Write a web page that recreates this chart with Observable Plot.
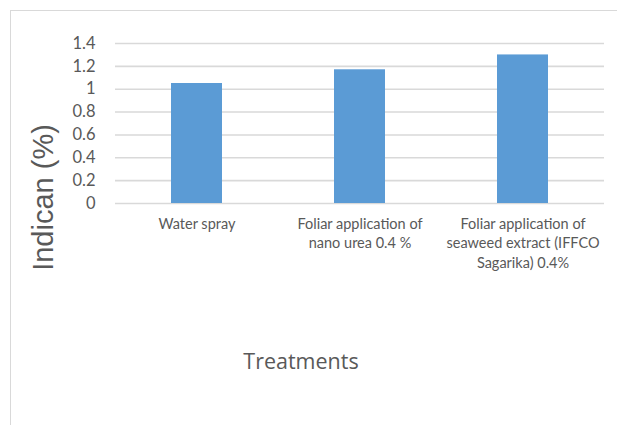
<!DOCTYPE html>
<html>
<head>
<meta charset="utf-8">
<script src="https://cdn.jsdelivr.net/npm/d3@7"></script>
<script src="https://cdn.jsdelivr.net/npm/@observablehq/plot@0.6"></script>
<style>
  html, body { margin: 0; padding: 0; background: #fff; overflow: hidden; }
  #wrap { position: relative; width: 617px; height: 425px; }
  #border { position: absolute; left: 10px; top: 10px; width: 700px; height: 500px;
            border: 1.5px solid #d9d9d9; pointer-events: none; box-sizing: border-box; }
</style>
</head>
<body>
<div id="wrap"><div id="border"></div></div>
<script>
const categories = [
  "Water spray",
  "Foliar application of\nnano urea 0.4 %",
  "Foliar application of\nseaweed extract (IFFCO\nSagarika) 0.4%"
];
const values = [1.05, 1.17, 1.30];
const yTicks = [0, 0.2, 0.4, 0.6, 0.8, 1, 1.2, 1.4];
const yLabel = "Indican (%)";
const xLabel = "Treatments";

const data = categories.map((c, i) => ({category: c, value: values[i]}));
const font = "Lato, 'Open Sans', sans-serif";

const chart = Plot.plot({
  width: 617,
  height: 425,
  marginLeft: 115,
  marginRight: 13,
  marginTop: 43,
  marginBottom: 222,
  style: {fontFamily: font, background: "transparent", color: "#595959"},
  x: {domain: categories, paddingInner: 0.69, paddingOuter: 0.345, label: null},
  y: {domain: [0, 1.4], label: null},
  marks: [
    Plot.gridY(yTicks, {stroke: "#d9d9d9", strokeOpacity: 1, strokeWidth: 1.6}),
    Plot.barY(data, {x: "category", y: "value", fill: "#5b9bd5"}),
    Plot.axisY(yTicks, {
      tickSize: 0, tickPadding: 20, fontSize: 16.5, fill: "#595959",
      tickFormat: d => String(+d.toFixed(1)), label: null
    }),
    Plot.axisX({
      tickSize: 0, tickPadding: 12, fontSize: 14.5, fill: "#595959",
      lineHeight: 1.33, textAnchor: "middle", label: null
    }),
    Plot.text([yLabel], {
      frameAnchor: "left", textAnchor: "middle", lineAnchor: "middle",
      dx: -72, dy: 74, rotate: -90,
      fontSize: 29, fill: "#595959", fontFamily: "'Liberation Sans', Arial, sans-serif"
    }),
    Plot.text([xLabel], {
      frameAnchor: "bottom", lineAnchor: "middle", dx: -59, dy: 159,
      fontSize: 21.5, fill: "#595959", fontFamily: "'Open Sans', sans-serif"
    })
  ]
});
document.getElementById("wrap").prepend(chart);
</script>
</body>
</html>
